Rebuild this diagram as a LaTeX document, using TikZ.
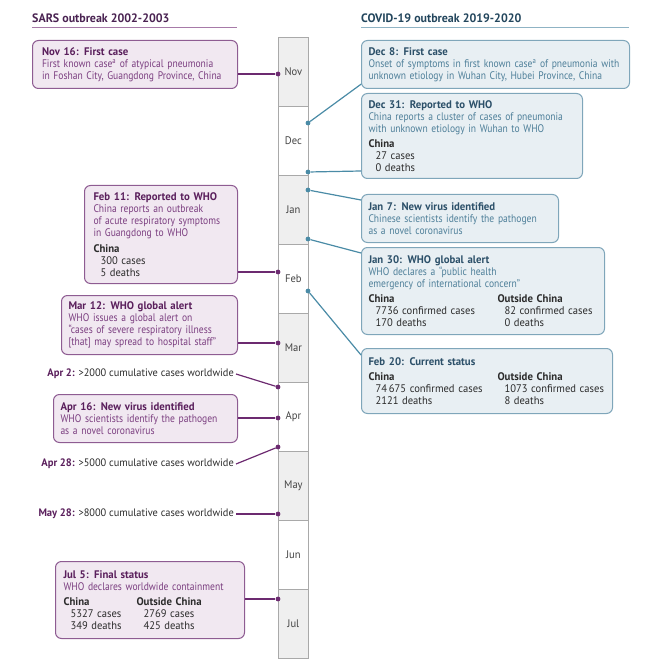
\documentclass[tikz,border=0pt]{standalone}
\usepackage{fontspec}
\setmainfont{PT Sans}[FakeStretch=0.87,BoldFeatures={FakeStretch=0.98}]
\newfontfamily\statfont{PT Sans}[FakeStretch=0.96,BoldFeatures={FakeStretch=0.98}]
\usetikzlibrary{calc}
\definecolor{ptitle}{HTML}{5A1F5C}
\definecolor{ptext}{HTML}{7B3E80}
\definecolor{pfill}{HTML}{F1E8F1}
\definecolor{pedge}{HTML}{8E5C92}
\definecolor{pline}{HTML}{6C2A70}
\definecolor{phead}{HTML}{4A2352}
\definecolor{prule}{HTML}{A77AA8}
\definecolor{btitle}{HTML}{2C5069}
\definecolor{btext}{HTML}{4E7F99}
\definecolor{bfill}{HTML}{E8EFF3}
\definecolor{bedge}{HTML}{7FA6BA}
\definecolor{bline}{HTML}{4A8BA6}
\definecolor{bhead}{HTML}{23465D}
\definecolor{brule}{HTML}{8FB3C4}
\definecolor{stat}{HTML}{2B2B2B}
\definecolor{mfill}{HTML}{EFEFEF}
\definecolor{medge}{HTML}{A9A9A9}
\definecolor{mtext}{HTML}{444444}
\newcommand{\ptl}[1]{\textbf{\color{ptitle}#1}}
\newcommand{\btl}[1]{\textbf{\color{btitle}#1}}
\newcommand{\sth}[1]{{\statfont\bfseries\color{stat}#1}}
\newcommand{\stv}[1]{{\statfont\color{stat}\hspace*{7pt}#1}}
\newcommand{\twocol}[3]{\makebox[#1][l]{#2}#3}
\begin{document}
\begin{tikzpicture}[x=1pt,y=-1pt,font=\fontsize{11}{12}\selectfont,
  evbox/.style={rounded corners=6pt,line width=1pt,anchor=north west,
    inner ysep=0pt,align=left},
  pbox/.style={evbox,inner xsep=8pt,draw=pedge,fill=pfill,text=ptext},
  bbox/.style={evbox,inner xsep=7pt,draw=bedge,fill=bfill,text=btext},
  month/.style={draw=medge,line width=0.8pt,minimum width=30pt,minimum height=69pt,
    inner sep=0pt,text=mtext,font=\statfont\fontsize{11}{12}\selectfont},
  pdot/.style={circle,fill=pline,inner sep=0pt,minimum size=4.8pt},
  bdot/.style={circle,fill=bline,inner sep=0pt,minimum size=4.8pt},
  pconn/.style={draw=pline,line width=1.2pt},
  bconn/.style={draw=bline,line width=1.2pt},
  cum/.style={anchor=east,inner sep=2pt,text=stat,font=\statfont\fontsize{10.8}{12}\selectfont},
  head/.style={anchor=base west,inner sep=0pt,font=\fontsize{12.2}{14}\selectfont\bfseries}]
\useasboundingbox (0,0) rectangle (650,668);
% headers
\node[head,text=phead] (hsars) at (32,23) {SARS outbreak 2002-2003};
\draw[prule,line width=1pt] (32,28) -- (237,28);
\node[head,text=bhead] (hcovid) at (361,23) {COVID-19 outbreak 2019-2020};
\draw[brule,line width=1pt] (361,28) -- (629,28);
% months
\foreach \m/\lab/\f [count=\i] in {Nov/Nov/mfill,Dec/Dec/white,Jan/Jan/mfill,Feb/Feb/white,Mar/Mar/mfill,Apr/Apr/white,May/May/mfill,Jun/Jun/white,Jul/Jul/mfill}{
  \node[month,fill=\f,anchor=north west] (m\m) at (278,{37+69*(\i-1)}) {\lab};
}
% dots
\node[pdot] (pn16) at (278,74) {};
\node[pdot] (pf11) at (278,272) {};
\node[pdot] (pm12) at (278,343) {};
\node[pdot] (pa2) at (278,387) {};
\node[pdot] (pa16) at (278,418) {};
\node[pdot] (pa28) at (278,447) {};
\node[pdot] (pm28) at (278,514) {};
\node[pdot] (pj5) at (278,599) {};
\node[bdot] (bd8) at (308,123) {};
\node[bdot] (bd31) at (308,172) {};
\node[bdot] (bj7) at (308,190) {};
\node[bdot] (bj30) at (308,239) {};
\node[bdot] (bf20) at (308,291) {};
% SARS boxes
\node[pbox,inner xsep=9.5pt,text width=186pt,minimum height=48pt] (n16) at (32,40)
 {\ptl{Nov 16: First case}\\First known case\textsuperscript{a} of atypical pneumonia\\in Foshan City, Guangdong Province, China};
\node[pbox,inner xsep=9pt,text width=135pt,minimum height=98pt] (f11) at (84,185)
 {\ptl{Feb 11: Reported to WHO}\\China reports an outbreak\\of acute respiratory symptoms\\in Guangdong to WHO\\[3.5pt]\sth{China}\\\stv{300 cases}\\\stv{5 deaths}};
\node[pbox,inner xsep=7pt,text width=162pt,minimum height=59pt] (m12) at (61,295)
 {\ptl{Mar 12: WHO global alert}\\WHO issues a global alert on\\“cases of severe respiratory illness\\{[}that{]} may spread to hospital staff”};
\node[pbox,inner xsep=7pt,text width=170pt,minimum height=48pt] (a16) at (53,394)
 {\ptl{Apr 16: New virus identified}\\WHO scientists identify the pathogen\\as a novel coronavirus};
\node[pbox,text width=173pt,minimum height=77pt] (j5) at (55,561)
 {\ptl{Jul 5: Final status}\\WHO declares worldwide containment\\[3.5pt]\twocol{73pt}{\sth{China}}{\sth{Outside China}}\\\twocol{73pt}{\stv{5327 cases}}{\stv{2769 cases}}\\\twocol{73pt}{\stv{349 deaths}}{\stv{425 deaths}}};
% cumulative notes
\node[cum] (a2) at (236,374) {\ptl{Apr 2:} >2000 cumulative cases worldwide};
\node[cum] (a28) at (236,464) {\ptl{Apr 28:} >5000 cumulative cases worldwide};
\node[cum] (m28) at (236,514) {\ptl{May 28:} >8000 cumulative cases worldwide};
% COVID boxes
\node[bbox,text width=254pt,minimum height=48pt] (d8) at (361,40)
 {\btl{Dec 8: First case}\\Onset of symptoms in first known case\textsuperscript{a} of pneumonia with\\unknown etiology in Wuhan City, Hubei Province, China};
\node[bbox,text width=207pt,minimum height=85pt] (d31) at (361,93)
 {\btl{Dec 31: Reported to WHO}\\China reports a cluster of cases of pneumonia\\with unknown etiology in Wuhan to WHO\\[3.5pt]\sth{China}\\\stv{27 cases}\\\stv{0 deaths}};
\node[bbox,text width=183pt,minimum height=48pt] (j7) at (361,194)
 {\btl{Jan 7: New virus identified}\\Chinese scientists identify the pathogen\\as a novel coronavirus};
\node[bbox,text width=229pt,minimum height=87pt] (j30) at (361,247)
 {\btl{Jan 30: WHO global alert}\\WHO declares a “public health\\emergency of international concern”\\[3.5pt]\twocol{129pt}{\sth{China}}{\sth{Outside China}}\\\twocol{129pt}{\stv{7736 confirmed cases}}{\stv{82 confirmed cases}}\\\twocol{129pt}{\stv{170 deaths}}{\stv{0 deaths}}};
\node[bbox,text width=237pt,minimum height=65pt] (f20) at (361,348)
 {\btl{Feb 20: Current status}\\[3.5pt]\twocol{129pt}{\sth{China}}{\sth{Outside China}}\\\twocol{129pt}{\stv{74\,675 confirmed cases}}{\stv{1073 confirmed cases}}\\\twocol{129pt}{\stv{2121 deaths}}{\stv{8 deaths}}};
% SARS connectors
\draw[pconn] (n16.east |- pn16) -- (pn16);
\draw[pconn] (f11.east |- pf11) -- (pf11);
\draw[pconn] (m12.east |- pm12) -- (pm12);
\draw[pconn] (a16.east |- pa16) -- (pa16);
\draw[pconn] (j5.east |- pj5) -- (pj5);
\draw[pconn] (a2.east) -- (pa2);
\draw[pconn] (a28.east) -- (pa28);
\draw[pconn] (m28.east) -- (pm28);
% COVID connectors
\draw[bconn] (bd8) -- ([shift={(0.3pt,5pt)}]d8.south west);
\draw[bconn] (bd31) -- ([yshift=8pt]d31.south west);
\draw[bconn] (bj7) -- ([yshift=-6pt]j7.north west);
\draw[bconn] (bj30) -- ([yshift=-6pt]j30.north west);
\draw[bconn] (bf20) -- ([yshift=-7pt]f20.north west);
\end{tikzpicture}
\end{document}
